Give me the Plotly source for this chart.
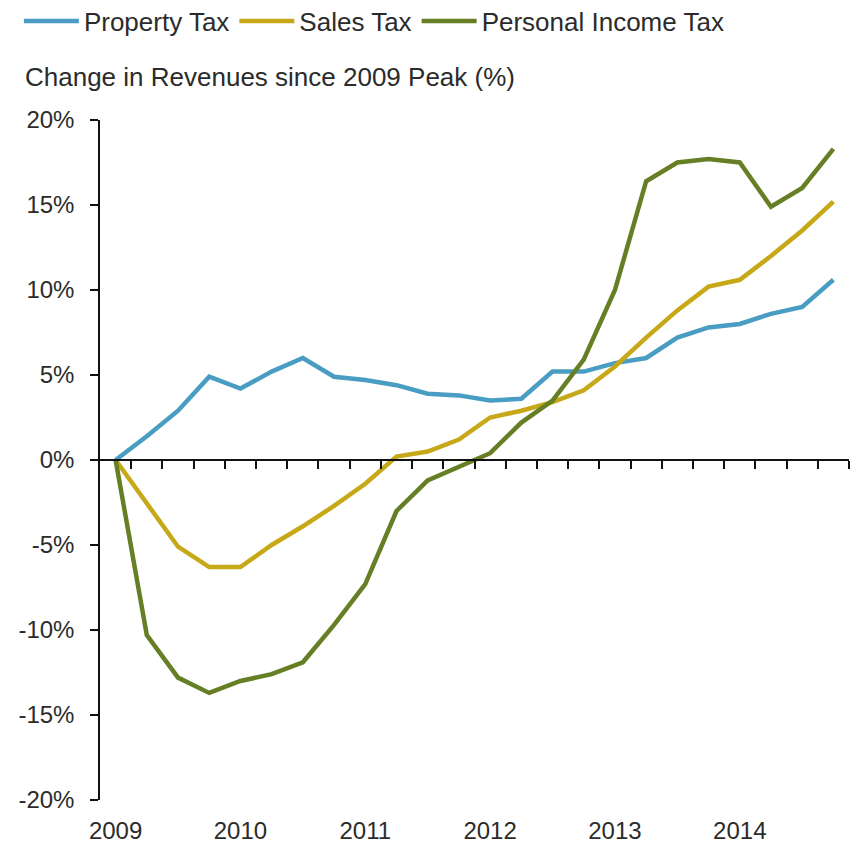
import plotly.graph_objects as go

# Quarterly change in state tax revenues relative to the 2009 peak (%)
years = ["2009", "2010", "2011", "2012", "2013", "2014"]
quarters = [f"{y} Q{q}" for y in years for q in range(1, 5)]

property_tax = [0.0, 1.4, 2.9, 4.9, 4.2, 5.2, 6.0, 4.9, 4.7, 4.4, 3.9, 3.8,
                3.5, 3.6, 5.2, 5.2, 5.7, 6.0, 7.2, 7.8, 8.0, 8.6, 9.0, 10.6]
sales_tax = [0.0, -2.6, -5.1, -6.3, -6.3, -5.0, -3.9, -2.7, -1.4, 0.2, 0.5, 1.2,
             2.5, 2.9, 3.4, 4.1, 5.5, 7.2, 8.8, 10.2, 10.6, 12.0, 13.5, 15.2]
income_tax = [0.0, -10.3, -12.8, -13.7, -13.0, -12.6, -11.9, -9.7, -7.3, -3.0, -1.2, -0.4,
              0.4, 2.2, 3.5, 5.9, 10.0, 16.4, 17.5, 17.7, 17.5, 14.9, 16.0, 18.3]

y_ticks = [-20, -15, -10, -5, 0, 5, 10, 15, 20]
y_labels = [f"{v}%" for v in y_ticks]

series = [
    ("Property Tax", property_tax, "#4a9dc2"),
    ("Sales Tax", sales_tax, "#c6a818"),
    ("Personal Income Tax", income_tax, "#667f24"),
]

pos = list(range(len(quarters)))
year_pos = [quarters.index(f"{y} Q1") for y in years]
boundaries = [p + 0.5 for p in pos]
xrange = [-0.5, len(quarters) - 0.5]

FONT = "Liberation Sans, Arial, sans-serif"
TXT = "#2b2b2b"
AX = "#111111"

fig = go.Figure()
for name, vals, color in series:
    fig.add_trace(go.Scatter(
        x=pos, y=vals, name=name, mode="lines",
        line=dict(color=color, width=4.5),
        customdata=quarters,
        hovertemplate="%{customdata}: %{y:.1f}%<extra>" + name + "</extra>",
    ))

fig.update_layout(
    width=858, height=843,
    margin=dict(l=100, r=9, t=120, b=43),
    paper_bgcolor="white", plot_bgcolor="white",
    font=dict(family=FONT, size=25, color=TXT),
    showlegend=True,
    legend=dict(
        orientation="h", xref="container", yref="container",
        x=0.022, y=1 - 21 / 843, xanchor="left", yanchor="middle",
        font=dict(size=26, color=TXT), itemwidth=55,
        tracegroupgap=0, bgcolor="rgba(0,0,0,0)",
    ),
    title=dict(
        text="Change in Revenues since 2009 Peak (%)",
        xref="container", yref="container",
        x=25 / 858, y=1 - 77 / 843, xanchor="left", yanchor="middle",
        font=dict(size=26, color=TXT),
    ),
    # Horizontal axis sits on the zero line: quarter ticks on it,
    # year labels pushed down to the bottom of the plot area.
    xaxis=dict(
        anchor="free", position=0.5, automargin=False,
        range=xrange, tickmode="array", tickvals=year_pos, ticktext=years,
        ticks="", showline=True, linecolor=AX, linewidth=1.5,
        minor=dict(tickmode="array", tickvals=boundaries, ticks="outside",
                   ticklen=8, tickwidth=1.5, tickcolor=AX, showgrid=False),
        showgrid=False, zeroline=False,
        ticklabelstandoff=349, tickfont=dict(size=24, color=TXT),
    ),
    yaxis=dict(
        range=[-20, 20], tickmode="array", tickvals=y_ticks, ticktext=y_labels,
        ticks="outside", ticklen=8, tickwidth=1.5, automargin=False,
        tickcolor=AX, showline=True, linecolor=AX, linewidth=1.5,
        showgrid=False, zeroline=False, ticklabelstandoff=11,
        tickfont=dict(size=24, color=TXT),
    ),
)

fig.write_html("out.html")
